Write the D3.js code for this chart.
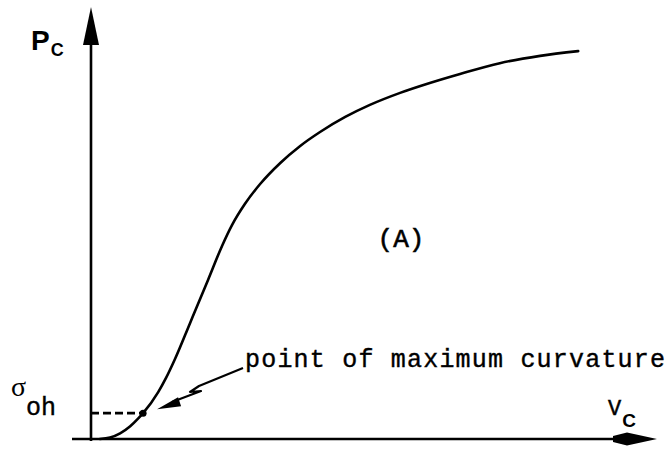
<!DOCTYPE html>
<html>
<head>
<meta charset="utf-8">
<script src="https://cdn.jsdelivr.net/npm/d3@7"></script>
<style>
  html, body { margin: 0; padding: 0; background: #fff; }
  svg { display: block; }
</style>
</head>
<body>
<div id="chart"></div>
<script>
// Compression curve: Pc against Vc (arbitrary units, 0–100)
const vc = [1.6, 3.4, 5.2, 7.0, 8.4, 9.3, 12.0, 13.4, 15.0, 17.7, 20.9, 23.4, 25.2, 27.5, 30.2, 33.8, 37.3, 40.9, 45.4, 49.8, 55.2, 60.5, 65.9, 73.0, 80.2, 87.0];
const pc = [0, 0.33, 1.3, 2.95, 4.72, 6.0, 10.9, 14.2, 18.6, 27.0, 37.0, 44.9, 49.8, 54.7, 59.3, 64.2, 68.1, 71.4, 74.9, 77.7, 80.5, 82.8, 84.9, 87.4, 89.1, 90.2];

// Point of maximum curvature (Vc, Pc = sigma_oh)
const maxCurv = [9.3, 6.0];

const W = 671, H = 452;
const svg = d3.select("#chart").append("svg")
  .attr("width", W).attr("height", H)
  .attr("viewBox", `0 0 ${W} ${H}`);

const x = d3.scaleLinear().domain([0, 100]).range([91, 651]);
const y = d3.scaleLinear().domain([0, 100]).range([439, 9]);

const ink = "#000";

// ---- axes with arrowheads ----
const x0 = x(0), y0 = y(0);
// vertical axis
svg.append("line")
  .attr("x1", x0).attr("y1", y0 + 2)
  .attr("x2", x0).attr("y2", 40)
  .attr("stroke", ink).attr("stroke-width", 2.6);
svg.append("path")
  .attr("d", `M${x0},7 L${x0 + 8},45 L${x0 - 8},45 Z`)
  .attr("fill", ink);
// horizontal axis
svg.append("line")
  .attr("x1", 72).attr("y1", y0)
  .attr("x2", 620).attr("y2", y0)
  .attr("stroke", ink).attr("stroke-width", 2.6);
svg.append("path")
  .attr("d", `M613,${y0 - 3} L627,${y0 - 6.5} L657,${y0} L627,${y0 + 6.5} L613,${y0 + 3} Z`)
  .attr("fill", ink);

// ---- curve ----
const pts = vc.map((v, i) => [v, pc[i]]);
const line = d3.line()
  .x(d => x(d[0])).y(d => y(d[1]))
  .curve(d3.curveMonotoneX);
svg.append("path")
  .datum(pts)
  .attr("d", line)
  .attr("fill", "none")
  .attr("stroke", ink)
  .attr("stroke-width", 2.6)
  .attr("stroke-linecap", "round");

// ---- sigma_oh dashed guide and the marked point ----
svg.append("line")
  .attr("x1", x0).attr("y1", y(maxCurv[1]))
  .attr("x2", x(maxCurv[0])).attr("y2", y(maxCurv[1]))
  .attr("stroke", ink).attr("stroke-width", 2.8)
  .attr("stroke-dasharray", "8,4");
svg.append("circle")
  .attr("cx", x(maxCurv[0])).attr("cy", y(maxCurv[1]))
  .attr("r", 3.5).attr("fill", ink);

// ---- zig-zag pointer to the point ----
const px = x(maxCurv[0]), py = y(maxCurv[1]);
svg.append("path")
  .attr("d", `M243,368 L199,386 L190,392 L201,391 L172,402`)
  .attr("fill", "none").attr("stroke", ink)
  .attr("stroke-width", 2.2).attr("stroke-linejoin", "round");
svg.append("path")
  .attr("d", `M${px + 14},${py - 4} L${px + 35},${py - 16} L${px + 38},${py - 7} Z`)
  .attr("fill", ink);

// ---- text ----
const mono = "'Liberation Mono', 'DejaVu Sans Mono', monospace";
const sans = "'Liberation Sans', Arial, sans-serif";

svg.append("text")
  .attr("x", 245).attr("y", 367)
  .attr("font-family", mono).attr("font-size", 25)
  .attr("textLength", 420).attr("lengthAdjust", "spacing")
  .attr("fill", ink).attr("stroke", ink).attr("stroke-width", 0.4)
  .text("point of maximum curvature");

svg.append("text")
  .attr("x", 401).attr("y", 247)
  .attr("text-anchor", "middle")
  .attr("font-family", mono).attr("font-size", 26)
  .attr("fill", ink).attr("stroke", ink).attr("stroke-width", 0.6)
  .text("(A)");

// Pc
const pcLab = svg.append("text").attr("x", 31).attr("y", 50)
  .attr("font-family", sans).attr("font-weight", "bold").attr("fill", ink);
pcLab.append("tspan").attr("font-size", 28).text("P");
pcLab.append("tspan").attr("font-size", 18).attr("dy", 6).attr("dx", 1).text("C");

// Vc
const vcLab = svg.append("text").attr("x", 608).attr("y", 415).attr("fill", ink);
vcLab.append("tspan").attr("font-family", mono).attr("font-size", 22)
  .attr("stroke", ink).attr("stroke-width", 0.5).text("V");
vcLab.append("tspan").attr("font-family", sans).attr("font-weight", "bold")
  .attr("font-size", 19).attr("dy", 12).attr("dx", 1).text("C");

// sigma_oh
const sLab = svg.append("text").attr("x", 11).attr("y", 396).attr("fill", ink);
sLab.append("tspan").attr("font-family", "'Liberation Serif', 'DejaVu Serif', serif")
  .attr("font-size", 28).text("σ");
sLab.append("tspan").attr("font-family", mono).attr("font-size", 25)
  .attr("stroke", ink).attr("stroke-width", 0.4)
  .attr("dy", 19).attr("dx", 0).text("oh");
</script>
</body>
</html>
